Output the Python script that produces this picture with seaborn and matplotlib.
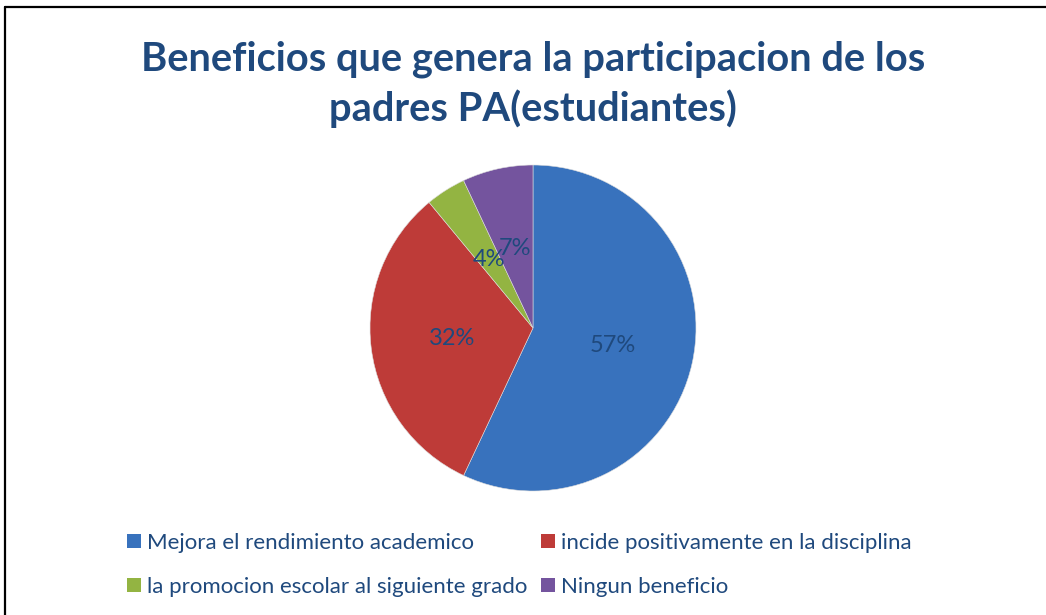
import matplotlib
matplotlib.use("Agg")
import seaborn as sns
import matplotlib.pyplot as plt
from matplotlib.patches import Patch
from matplotlib.lines import Line2D

# datos
categorias = ["Mejora el rendimiento academico",
              "incide positivamente en la disciplina",
              "la promocion escolar al siguiente grado",
              "Ningun beneficio"]
porcentajes = [57, 32, 4, 7]
colores = ["#3872bd", "#be3b38", "#93b442", "#74549e"]
titulo = "Beneficios que genera la participacion de los\npadres PA(estudiantes)"

sns.set_theme(style="white")
plt.rcParams['font.family'] = ['Lato', 'DejaVu Sans']
azul_texto = "#1f497d"

W, H = 1046, 615
fig = plt.figure(figsize=(W / 100, H / 100), dpi=100)
fig.patch.set_facecolor("white")

# pie centrado en (533, 328) px con radio 163 px
cx, cy, r = 533, 328, 163
ax = fig.add_axes([(cx - r) / W, (H - cy - r) / H, 2 * r / W, 2 * r / H])
wedges, _, autotexts = ax.pie(porcentajes, colors=sns.color_palette(colores),
                              startangle=90, counterclock=False,
                              autopct="%d%%", pctdistance=0.5,
                              wedgeprops=dict(linewidth=0.4, edgecolor="#dddddd"),
                              textprops=dict(color=azul_texto, fontsize=17))
ax.set_xlim(-1, 1)
ax.set_ylim(-1, 1)
ax.axis("off")

fig.text(cx / W, 1 - 84 / H, titulo, ha="center", va="center",
         fontsize=28.7, fontweight="bold", color=azul_texto, linespacing=1.36)

# leyenda en dos filas
orden = [0, 2, 1, 3]
handles = [Patch(facecolor=colores[i], edgecolor="none") for i in orden]
labels = [categorias[i] for i in orden]
fig.legend(handles, labels, ncol=2, loc="upper left",
           bbox_to_anchor=(127 / W, 1 - 533 / H), frameon=False,
           fontsize=16, labelcolor=azul_texto, handlelength=0.63,
           handleheight=0.63, handletextpad=0.27, columnspacing=0.63,
           labelspacing=1.08, borderpad=0, borderaxespad=0)

# marco del grafico (solo se ven los bordes superior e izquierdo)
fig.add_artist(Line2D([5 / W, 5 / W], [0, 1 - 7 / H], color="black", lw=1.6))
fig.add_artist(Line2D([5 / W, 1], [1 - 7 / H, 1 - 7 / H], color="black", lw=1.6))

fig.savefig("out.png", dpi=100)
